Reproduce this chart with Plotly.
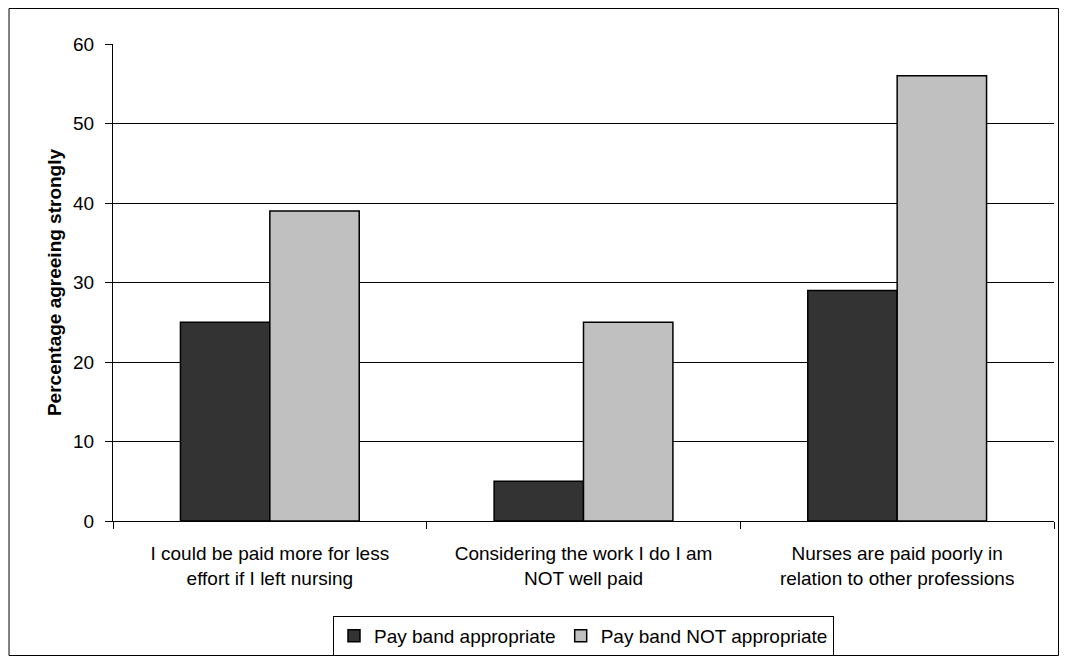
import plotly.graph_objects as go

# survey statements (x categories)
statements = [
    "I could be paid more for less<br>effort if I left nursing",
    "Considering the work I do I am<br>NOT well paid",
    "Nurses are paid poorly in<br>relation to other professions",
]
series_names = ["Pay band appropriate", "Pay band NOT appropriate"]
pay_band_ok = [25, 5, 29]
pay_band_not_ok = [39, 25, 56]
y_ticks = [0, 10, 20, 30, 40, 50, 60]

FONT = "Liberation Sans, Arial, sans-serif"

fig = go.Figure()
fig.add_trace(go.Bar(
    x=statements, y=pay_band_ok, name=series_names[0],
    marker=dict(color="#333333", line=dict(color="#000000", width=1.5)),
))
fig.add_trace(go.Bar(
    x=statements, y=pay_band_not_ok, name=series_names[1],
    marker=dict(color="#C0C0C0", line=dict(color="#000000", width=1.5)),
))

# page body has an 8px margin, keep the figure small enough to avoid scrollbars
fig.update_layout(
    width=1051,
    height=648,
    margin=dict(l=105, r=5, t=36, b=135),
    paper_bgcolor="white",
    plot_bgcolor="white",
    barmode="group",
    bargap=0.43,
    bargroupgap=0,
    font=dict(family=FONT, size=19, color="#000000"),
    legend=dict(
        orientation="h",
        xref="paper", x=0.5, xanchor="center",
        yref="container", y=0.062, yanchor="top",
        bordercolor="#000000", borderwidth=1,
        font=dict(size=19),
        tracegroupgap=0,
    ),
    showlegend=True,
)

fig.update_yaxes(
    range=[0, 60],
    tickvals=y_ticks,
    showgrid=True, gridcolor="#000000", gridwidth=1,
    showline=True, linecolor="#000000", linewidth=1,
    ticks="outside", ticklen=7, tickcolor="#000000",
    ticklabelstandoff=7,
    zeroline=False,
    automargin=False,
    title=dict(text="<b>Percentage agreeing strongly</b>", font=dict(size=19), standoff=6),
)
fig.update_xaxes(
    showline=True, linecolor="#000000", linewidth=1,
    ticks="outside", ticklen=7, tickcolor="#000000",
    tickson="boundaries",
    ticklabelstandoff=15,
    automargin=False,
    showgrid=False,
)

# outer chart border
fig.add_shape(
    type="rect", xref="paper", yref="paper",
    x0=-0.1105, x1=1.0048, y0=-0.282, y1=1.0744,
    line=dict(color="#000000", width=1), layer="below",
)

fig.write_html("out.html")
